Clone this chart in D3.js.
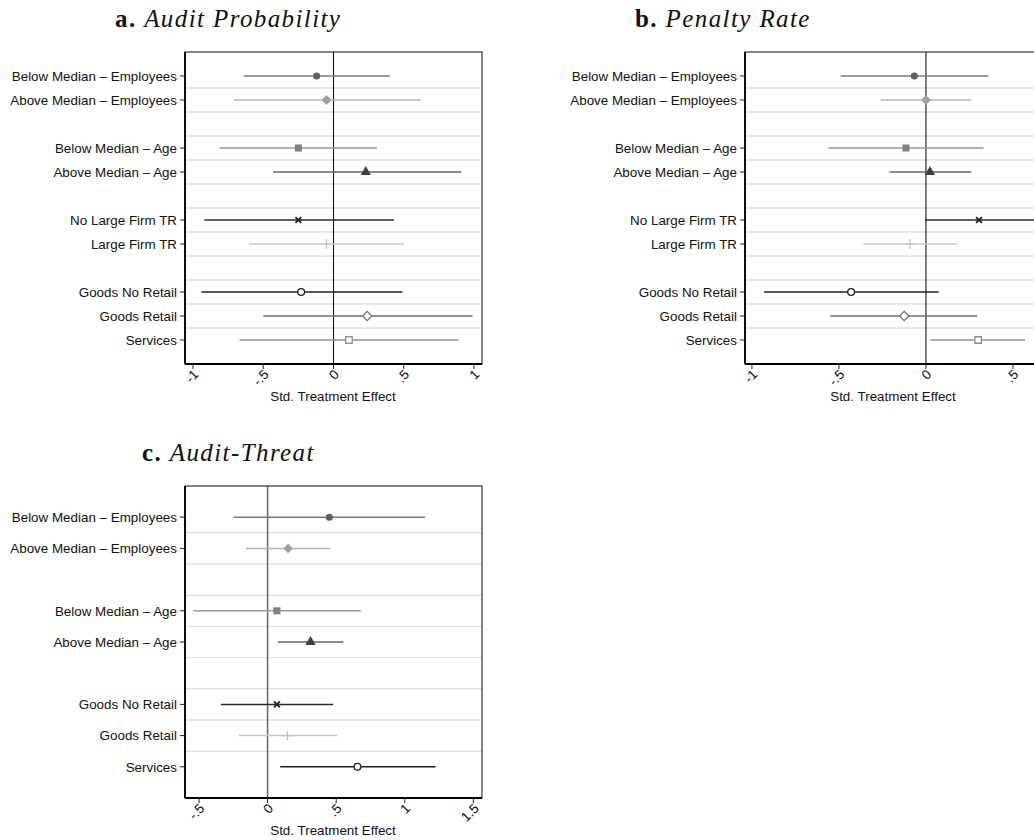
<!DOCTYPE html>
<html>
<head>
<meta charset="utf-8">
<script src="https://cdn.jsdelivr.net/npm/d3@7"></script>
<style>
  html, body { margin: 0; padding: 0; background: #fff; }
  svg { display: block; }
  .lab { font-family: "Liberation Sans", Arial, Helvetica, sans-serif; font-size: 13.4px; fill: #111; }
  .ttl { font-family: "Liberation Serif", "Times New Roman", serif; font-size: 25px; letter-spacing: 1.4px; fill: #111; }
</style>
</head>
<body>
<svg id="fig" width="1034" height="840"></svg>
<script>
// Subgroup labels (panels a and b) and the block sizes that split them
const subgroups = ["Below Median – Employees", "Above Median – Employees",
                   "Below Median – Age", "Above Median – Age",
                   "No Large Firm TR", "Large Firm TR",
                   "Goods No Retail", "Goods Retail", "Services"];
const blocksAB = [2, 2, 2, 3];

// Panel c has no tax-representative split
const subgroupsC = ["Below Median – Employees", "Above Median – Employees",
                    "Below Median – Age", "Above Median – Age",
                    "Goods No Retail", "Goods Retail", "Services"];
const blocksC = [2, 2, 3];

// a. Audit Probability: point estimates and 95% CI bounds
const auditCoef = [-0.12, -0.05, -0.25, 0.23, -0.25, -0.05, -0.23, 0.24, 0.11];
const auditLo   = [-0.64, -0.71, -0.81, -0.43, -0.92, -0.60, -0.94, -0.50, -0.67];
const auditHi   = [0.40, 0.62, 0.31, 0.91, 0.43, 0.50, 0.49, 0.99, 0.89];

// b. Penalty Rate
const penaltyCoef = [-0.067, 0.0, -0.115, 0.023, 0.305, -0.092, -0.43, -0.125, 0.30];
const penaltyLo   = [-0.49, -0.26, -0.56, -0.21, -0.005, -0.36, -0.93, -0.55, 0.025];
const penaltyHi   = [0.36, 0.26, 0.33, 0.26, 0.63, 0.18, 0.073, 0.295, 0.57];

// c. Audit-Threat
const threatCoef = [0.45, 0.15, 0.068, 0.313, 0.068, 0.145, 0.655];
const threatLo   = [-0.25, -0.157, -0.54, 0.075, -0.34, -0.21, 0.092];
const threatHi   = [1.15, 0.46, 0.68, 0.553, 0.478, 0.51, 1.225];

// x-axis ticks
const ticksAB = [-1, -0.5, 0, 0.5, 1];
const tickLabelsAB = ["-1", "-.5", "0", ".5", "1"];
const ticksC = [-0.5, 0, 0.5, 1, 1.5];
const tickLabelsC = ["-.5", "0", ".5", "1", "1.5"];

// Monochrome marker styles, assigned in series order
const styles = [
  { sym: d3.symbolCircle,   size: 40, fill: true,  color: "#606060", line: "#7a7a7a" },
  { sym: d3.symbolSquare,   size: 48, fill: true,  color: "#a0a0a0", line: "#b4b4b4", rot: 45 },
  { sym: d3.symbolSquare,   size: 50, fill: true,  color: "#808080", line: "#999999" },
  { sym: d3.symbolTriangle, size: 46, fill: true,  color: "#404040", line: "#666666" },
  { sym: d3.symbolTimes,    size: 24, fill: false, color: "#202020", line: "#2a2a2a", sw: 1.8 },
  { sym: d3.symbolPlus,     size: 34, fill: false, color: "#c0c0c0", line: "#c8c8c8", sw: 1.2 },
  { sym: d3.symbolCircle,   size: 36, fill: false, color: "#202020", line: "#202020", sw: 1.3 },
  { sym: d3.symbolSquare,   size: 44, fill: false, color: "#707070", line: "#707070", sw: 1.3, rot: 45 },
  { sym: d3.symbolSquare,   size: 42, fill: false, color: "#909090", line: "#909090", sw: 1.3 }
];

const svg = d3.select("#fig");

function rowsFromBlocks(blocks) {
  const rows = [];
  let r = 1;
  blocks.forEach(n => {
    for (let k = 0; k < n; k++) rows.push(r++);
    r++; // empty row between blocks
  });
  return rows;
}

function panel(opt) {
  const g = svg.append("g");
  const x = d3.scaleLinear().domain(opt.xDomain).range([opt.left, opt.left + opt.width]);
  const rows = rowsFromBlocks(opt.blocks);
  const nRows = rows[rows.length - 1] + 1;
  const y = d3.scaleLinear().domain([0, nRows]).range([opt.top, opt.top + opt.height]);

  // horizontal separators at half steps
  const grid = d3.range(1.5, nRows - 1, 1);
  g.selectAll("line.grid").data(grid).join("line")
    .attr("x1", x.range()[0]).attr("x2", x.range()[1])
    .attr("y1", d => y(d)).attr("y2", d => y(d))
    .attr("stroke", "#e2e2e2").attr("stroke-width", 1.4);

  // zero reference line
  g.append("line")
    .attr("x1", x(0)).attr("x2", x(0))
    .attr("y1", opt.top).attr("y2", opt.top + opt.height)
    .attr("stroke", opt.zeroColor).attr("stroke-width", opt.zeroWidth);

  // confidence intervals and point estimates
  const data = opt.labels.map((lab, i) => ({ lab, row: rows[i], c: opt.coef[i], lo: opt.lo[i], hi: opt.hi[i], s: styles[i] }));
  g.selectAll("line.ci").data(data).join("line")
    .attr("x1", d => x(d.lo)).attr("x2", d => x(d.hi))
    .attr("y1", d => y(d.row)).attr("y2", d => y(d.row))
    .attr("stroke", d => d.s.line).attr("stroke-width", 1.5);
  g.selectAll("path.pt").data(data).join("path")
    .attr("d", d => d3.symbol(d.s.sym, d.s.size)())
    .attr("transform", d => `translate(${x(d.c)},${y(d.row)})` + (d.s.rot ? ` rotate(${d.s.rot})` : ""))
    .attr("fill", d => d.s.fill ? d.s.color : "#fff")
    .attr("stroke", d => d.s.color)
    .attr("stroke-width", d => d.s.fill ? 0 : d.s.sw);

  // plot frame
  g.append("rect")
    .attr("x", opt.left).attr("y", opt.top)
    .attr("width", opt.width).attr("height", opt.height)
    .attr("fill", "none").attr("stroke", "#222").attr("stroke-width", 1.1);

  // left axis with category labels
  const yAxis = g.append("g").attr("transform", `translate(${opt.left},0)`);
  yAxis.append("line").attr("x1", 0).attr("x2", 0).attr("y1", opt.top).attr("y2", opt.top + opt.height)
    .attr("stroke", "#000").attr("stroke-width", 1.8);
  const yt = yAxis.selectAll("g").data(data).join("g").attr("transform", d => `translate(0,${y(d.row)})`);
  yt.append("line").attr("x1", -5).attr("x2", 0).attr("stroke", "#222").attr("stroke-width", 1);
  yt.append("text").attr("class", "lab").attr("x", -8).attr("dy", "0.35em")
    .attr("text-anchor", "end").text(d => d.lab);

  // bottom axis with rotated tick labels (only ticks inside the plotted range)
  const [d0, d1] = opt.xDomain;
  const tickData = opt.ticks.map((v, i) => ({ v, t: opt.tickLabels[i] })).filter(d => d.v >= d0 && d.v <= d1);
  const xAxis = g.append("g").attr("transform", `translate(0,${opt.top + opt.height})`);
  xAxis.append("line").attr("x1", opt.left).attr("x2", opt.left + opt.width)
    .attr("stroke", "#000").attr("stroke-width", 1.8);
  const xt = xAxis.selectAll("g").data(tickData).join("g").attr("transform", d => `translate(${x(d.v)},0)`);
  xt.append("line").attr("y1", 0).attr("y2", 5).attr("stroke", "#222").attr("stroke-width", 1);
  xt.append("text").attr("class", "lab")
    .attr("transform", "translate(3,8) rotate(-45)")
    .attr("text-anchor", "end").attr("dy", "0.35em")
    .text(d => d.t);
  xAxis.append("text").attr("class", "lab")
    .attr("x", opt.titleX).attr("y", 37).attr("text-anchor", "middle")
    .text("Std. Treatment Effect");

  // panel title
  const t = svg.append("text").attr("class", "ttl").attr("x", opt.headX).attr("y", opt.headY);
  t.append("tspan").attr("font-weight", "bold").text(opt.letter + " ");
  t.append("tspan").attr("font-style", "italic").text(opt.head);
}

panel({
  left: 185, top: 52, width: 297, height: 312, xDomain: [-1.057, 1.057],
  labels: subgroups, blocks: blocksAB, coef: auditCoef, lo: auditLo, hi: auditHi,
  ticks: ticksAB, tickLabels: tickLabelsAB, zeroColor: "#111", zeroWidth: 1.1,
  titleX: 333, letter: "a.", head: "Audit Probability", headX: 115, headY: 27
});

panel({
  left: 745, top: 52, width: 297, height: 312, xDomain: [-1.04, 0.667],
  labels: subgroups, blocks: blocksAB, coef: penaltyCoef, lo: penaltyLo, hi: penaltyHi,
  ticks: ticksAB, tickLabels: tickLabelsAB, zeroColor: "#111", zeroWidth: 1.1,
  titleX: 893, letter: "b.", head: "Penalty Rate", headX: 635, headY: 27
});

panel({
  left: 185, top: 486, width: 297, height: 312, xDomain: [-0.602, 1.563],
  labels: subgroupsC, blocks: blocksC, coef: threatCoef, lo: threatLo, hi: threatHi,
  ticks: ticksC, tickLabels: tickLabelsC, zeroColor: "#666", zeroWidth: 1.5,
  titleX: 333, letter: "c.", head: "Audit-Threat", headX: 142, headY: 461
});
</script>
</body>
</html>
